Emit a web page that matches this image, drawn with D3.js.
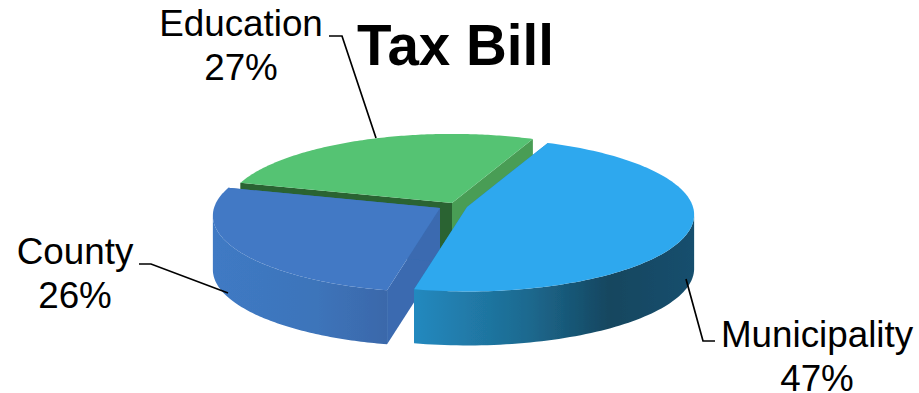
<!DOCTYPE html>
<html>
<head>
<meta charset="utf-8">
<script src="https://cdn.jsdelivr.net/npm/d3@7/dist/d3.min.js"></script>
<style>
html,body{margin:0;padding:0;background:#fff}
svg{display:block}
text{font-family:"Liberation Sans",Arial,sans-serif;fill:#000}
</style>
</head>
<body>
<script>
// Tax bill shares, drawn clockwise from the first slice
const categories = ["Municipality", "County", "Education"];
const shares = [47, 26, 27];
const chartTitle = "Tax Bill";

const topColours = ["#2fa8ee", "#4279c5", "#55c373"];
const wallStops = [
  [["0%", "#2389bf"], ["40%", "#1d6a90"], ["70%", "#14465f"], ["100%", "#154f6e"]],
  [["0%", "#3f7ac4"], ["60%", "#3d74ba"], ["100%", "#3a68aa"]],
  [["0%", "#3f9a55"], ["100%", "#3f9a55"]]
];
// Faces exposed by the cut: [at the slice start, at the slice end]
const cutColours = [["#1f7fb5", "#1f7fb5"], ["#3a6bb0", "#3a6bb0"], ["#2a6430", "#4a9d55"]];

const width = 919, height = 393;
const radiusX = 226, radiusY = 76, perspective = 0.1, depth = 54;
const firstAngle = 23 * Math.PI / 180;
// Each slice is pulled away from the pie's middle by its own offset
const hubs = [[467, 207], [440, 208], [452, 203]];

const svg = d3.select("body").append("svg").attr("width", width).attr("height", height);
const defs = svg.append("defs");

const slices = d3.pie().value(d => d).sort(null)
  .startAngle(firstAngle).endAngle(firstAngle + 2 * Math.PI)(shares);

// Tilted disc with a little perspective: the front of the rim is nearer the viewer
function rimPoint(hub, angle) {
  const u = Math.sin(angle), v = -Math.cos(angle);
  const s = 1 / (1 - perspective * v);
  return [hub[0] + radiusX * u * s, hub[1] + radiusY * v * s];
}
// The rim faces the viewer only past the widest points of the disc
const facesViewer = angle => -Math.cos(angle) >= perspective;
const drop = p => [p[0], p[1] + depth];
const outline = d3.line().curve(d3.curveLinearClosed);

const softEdge = defs.append("filter").attr("id", "soft")
  .attr("x", "-5%").attr("y", "-5%").attr("width", "110%").attr("height", "110%");
softEdge.append("feGaussianBlur").attr("stdDeviation", 0.6);

const pieLayer = svg.append("g").attr("filter", "url(#soft)");

// Back slice first so the nearer ones overlap it
[2, 1, 0].forEach(i => {
  const slice = slices[i], hub = hubs[i];
  const angles = d3.range(0, 121).map(k => slice.startAngle + (slice.endAngle - slice.startAngle) * k / 120);
  const rim = angles.map(a => rimPoint(hub, a));
  const frontRim = angles.filter(facesViewer).map(a => rimPoint(hub, a));
  const g = pieLayer.append("g").attr("class", "slice");

  const startPt = rim[0], endPt = rim[rim.length - 1];
  g.append("path").attr("fill", cutColours[i][0])
    .attr("d", outline([hub, startPt, drop(startPt), drop(hub)]));
  g.append("path").attr("fill", cutColours[i][1])
    .attr("d", outline([hub, endPt, drop(endPt), drop(hub)]));

  if (frontRim.length) {
    const xs = d3.extent(frontRim, p => p[0]);
    const grad = defs.append("linearGradient").attr("id", "wall" + i)
      .attr("gradientUnits", "userSpaceOnUse")
      .attr("x1", xs[0]).attr("x2", xs[1]).attr("y1", 0).attr("y2", 0);
    grad.selectAll("stop").data(wallStops[i]).join("stop")
      .attr("offset", d => d[0]).attr("stop-color", d => d[1]);
    g.append("path").attr("fill", `url(#wall${i})`)
      .attr("d", outline(frontRim.concat(frontRim.map(drop).reverse())));
  }

  g.append("path").attr("fill", topColours[i])
    .attr("d", outline([hub].concat(rim)));
});

// Leader lines from the rim out to each label
const leaders = [
  [[715, 341], [703, 341], [686, 279]],
  [[139, 264], [151, 264], [228, 293]],
  [[329, 36], [342, 36], [376, 138]]
];
svg.append("g").selectAll("path").data(leaders).join("path")
  .attr("d", d3.line()).attr("fill", "none").attr("stroke", "#000").attr("stroke-width", 1.7);

// Two-line labels: name, then share
const labelAnchors = [[817, 347], [75, 264], [241, 36]];
const lineGap = 43.5;
const labels = svg.append("g").selectAll("text").data(categories).join("text")
  .attr("text-anchor", "middle").attr("font-size", 36.8);
labels.append("tspan").attr("x", (d, i) => labelAnchors[i][0]).attr("y", (d, i) => labelAnchors[i][1]).text(d => d);
labels.append("tspan").attr("x", (d, i) => labelAnchors[i][0]).attr("y", (d, i) => labelAnchors[i][1] + lineGap)
  .text((d, i) => shares[i] + "%");

svg.append("text").attr("x", 455.5).attr("y", 65).attr("text-anchor", "middle")
  .attr("font-size", 56.5).attr("font-weight", "bold").text(chartTitle);
</script>
</body>
</html>
